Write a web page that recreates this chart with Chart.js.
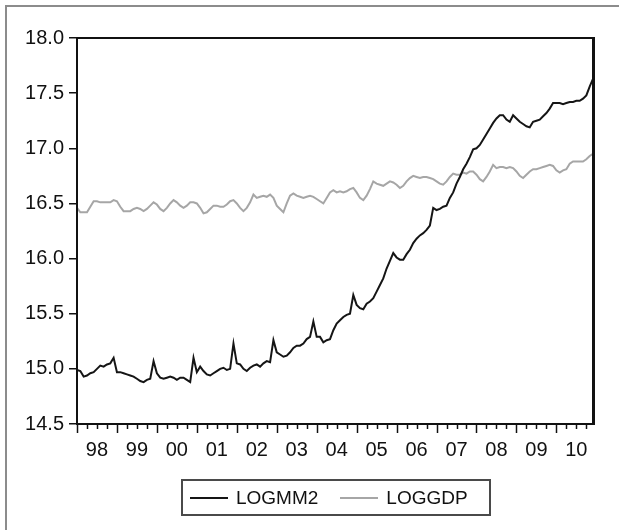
<!DOCTYPE html>
<html>
<head>
<meta charset="utf-8">
<script src="https://cdn.jsdelivr.net/npm/chart.js@4.4.0/dist/chart.umd.min.js"></script>
<style>
  html, body { margin: 0; padding: 0; background: #fff; }
  #wrap { position: relative; width: 619px; height: 530px; overflow: hidden; background: #fff; }
  #frame { position: absolute; left: 5px; top: 5px; width: 660px; height: 600px; border: 2px solid #8c8c8c; box-sizing: border-box; }
  #chart { position: absolute; left: 0; top: 0; }
  #legend {
    position: absolute; left: 181px; top: 479px; width: 310px; height: 37px; box-sizing: border-box;
    border: 2px solid #4a4a4a; display: flex; align-items: center; padding-left: 7px;
    font-family: "Liberation Sans", Arial, sans-serif; font-size: 19px; color: #111;
  }
  .item { display: flex; align-items: center; margin-right: 22px; }
  .swatch { width: 38px; height: 0; margin-right: 8px; }
</style>
</head>
<body>
<div id="wrap">
  <div id="frame"></div>
  <canvas id="chart" width="619" height="530"></canvas>
  <div id="legend"></div>
</div>
<script>
const FONT = '"Liberation Sans", Arial, sans-serif';

const years = ['98', '99', '00', '01', '02', '03', '04', '05', '06', '07', '08', '09', '10'];
const seriesNames = ['LOGMM2', 'LOGGDP'];
const seriesColors = ['#151515', '#a6a6a6'];

// monthly, 1998M01 - 2010M12
const logmm2 = [
  14.99, 14.98, 14.93, 14.94, 14.96, 14.97, 15.00, 15.03, 15.02, 15.04, 15.05, 15.10,
  14.97, 14.97, 14.96, 14.95, 14.94, 14.93, 14.91, 14.89, 14.88, 14.90, 14.91, 15.07,
  14.96, 14.92, 14.91, 14.92, 14.93, 14.92, 14.90, 14.92, 14.92, 14.90, 14.88, 15.10,
  14.97, 15.02, 14.98, 14.95, 14.94, 14.96, 14.98, 15.00, 15.01, 14.99, 15.00, 15.23,
  15.05, 15.04, 15.00, 14.98, 15.01, 15.03, 15.04, 15.02, 15.05, 15.07, 15.06, 15.26,
  15.15, 15.13, 15.11, 15.12, 15.15, 15.19, 15.21, 15.21, 15.23, 15.27, 15.29, 15.43,
  15.29, 15.29, 15.24, 15.26, 15.27, 15.35, 15.41, 15.44, 15.47, 15.49, 15.50, 15.67,
  15.58, 15.55, 15.54, 15.59, 15.61, 15.64, 15.70, 15.76, 15.82, 15.91, 15.98, 16.05,
  16.01, 15.99, 15.99, 16.04, 16.08, 16.14, 16.18, 16.21, 16.23, 16.26, 16.30, 16.46,
  16.44, 16.45, 16.47, 16.48, 16.55, 16.60, 16.68, 16.74, 16.81, 16.86, 16.92, 16.99,
  17.00, 17.03, 17.08, 17.13, 17.18, 17.23, 17.27, 17.30, 17.30, 17.26, 17.24, 17.30,
  17.27, 17.24, 17.22, 17.20, 17.19, 17.24, 17.25, 17.26, 17.29, 17.32, 17.36, 17.41,
  17.41, 17.41, 17.40, 17.41, 17.42, 17.42, 17.43, 17.43, 17.45, 17.48, 17.56, 17.63
];

const loggdp = [
  16.46, 16.42, 16.42, 16.42, 16.47, 16.52, 16.52, 16.51, 16.51, 16.51, 16.51, 16.53,
  16.52, 16.47, 16.43, 16.43, 16.43, 16.45, 16.46, 16.45, 16.43, 16.45, 16.48, 16.51,
  16.49, 16.45, 16.43, 16.46, 16.50, 16.53, 16.51, 16.48, 16.46, 16.48, 16.51, 16.51,
  16.50, 16.46, 16.41, 16.42, 16.45, 16.48, 16.48, 16.47, 16.47, 16.49, 16.52, 16.53,
  16.50, 16.46, 16.43, 16.46, 16.51, 16.58, 16.55, 16.56, 16.57, 16.56, 16.58, 16.55,
  16.48, 16.45, 16.42, 16.50, 16.57, 16.59, 16.57, 16.56, 16.55, 16.56, 16.57, 16.56,
  16.54, 16.52, 16.50, 16.55, 16.60, 16.62, 16.60, 16.61, 16.60, 16.61, 16.63, 16.64,
  16.60, 16.55, 16.53, 16.57, 16.63, 16.70, 16.68, 16.67, 16.66, 16.68, 16.70, 16.69,
  16.67, 16.64, 16.66, 16.70, 16.73, 16.75, 16.74, 16.73, 16.74, 16.74, 16.73, 16.72,
  16.70, 16.68, 16.67, 16.70, 16.74, 16.77, 16.76, 16.76, 16.78, 16.77, 16.79, 16.79,
  16.76, 16.72, 16.70, 16.74, 16.79, 16.85, 16.82, 16.83, 16.83, 16.82, 16.83, 16.82,
  16.79, 16.75, 16.73, 16.76, 16.79, 16.81, 16.81, 16.82, 16.83, 16.84, 16.85, 16.84,
  16.80, 16.78, 16.80, 16.81, 16.86, 16.88, 16.88, 16.88, 16.88, 16.90, 16.93, 16.95
];

const yMin = 14.5;
const yMax = 18.0;
const yStep = 0.5;

const toPoints = (arr) => arr.map((v, i) => ({ x: i, y: v }));

// frame around plot + quarterly/yearly ticks on the date axis
const framePlugin = {
  id: 'frame',
  afterDraw(chart) {
    const { ctx, chartArea: a } = chart;
    const xs = chart.scales.x;
    ctx.save();
    ctx.strokeStyle = '#111';
    ctx.lineWidth = 1.5;
    for (let m = 0; m <= xs.max; m += 3) {
      const px = Math.round(xs.getPixelForValue(m)) + 0.5;
      const len = m % 12 === 0 ? 9 : 5;
      ctx.beginPath();
      ctx.moveTo(px, a.bottom);
      ctx.lineTo(px, a.bottom + len);
      ctx.stroke();
    }
    ctx.lineWidth = 2;
    ctx.strokeRect(a.left, a.top, a.right - a.left, a.bottom - a.top);
    ctx.fillStyle = '#111';
    ctx.fillRect(a.right - 1, a.top - 1, 3, a.bottom - a.top + 2);
    ctx.restore();
  }
};

function buildLegend() {
  const legend = document.getElementById('legend');
  seriesNames.forEach((name, k) => {
    const item = document.createElement('div');
    item.className = 'item';
    item.innerHTML = `<span class="swatch" style="border-top: 2px solid ${seriesColors[k]}"></span><span>${name}</span>`;
    legend.appendChild(item);
  });
}

function initChart() {
  const ctx = document.getElementById('chart');
  new Chart(ctx, {
    type: 'line',
    data: {
      datasets: [
        { label: seriesNames[0], data: toPoints(logmm2), borderColor: seriesColors[0], borderWidth: 2, pointRadius: 0, tension: 0 },
        { label: seriesNames[1], data: toPoints(loggdp), borderColor: seriesColors[1], borderWidth: 2, pointRadius: 0, tension: 0 }
      ]
    },
    options: {
      responsive: false,
      animation: false,
      layout: { padding: { left: 0, top: 38, right: 26, bottom: 66 } },
      plugins: { legend: { display: false }, tooltip: { enabled: false } },
      scales: {
        x: {
          type: 'linear',
          min: 0,
          max: logmm2.length - 1,
          afterBuildTicks: (s) => { s.ticks = years.map((y, k) => ({ value: 12 * k + 6 })); },
          afterFit: (s) => { s.height = 40; },
          ticks: {
            autoSkip: false,
            maxRotation: 0,
            padding: 14,
            color: '#111',
            font: { family: FONT, size: 20 },
            callback: (v, i) => years[i]
          },
          grid: { drawOnChartArea: false, drawTicks: false },
          border: { display: false }
        },
        y: {
          min: yMin,
          max: yMax,
          afterFit: (s) => { s.width = 77; },
          ticks: {
            stepSize: yStep,
            padding: 5,
            color: '#111',
            font: { family: FONT, size: 20 },
            callback: (v) => Number(v).toFixed(1)
          },
          grid: { drawOnChartArea: false, tickLength: 8, color: '#111', lineWidth: 1.5 },
          border: { display: false }
        }
      }
    },
    plugins: [framePlugin]
  });
}

buildLegend();
initChart();
</script>
</body>
</html>
